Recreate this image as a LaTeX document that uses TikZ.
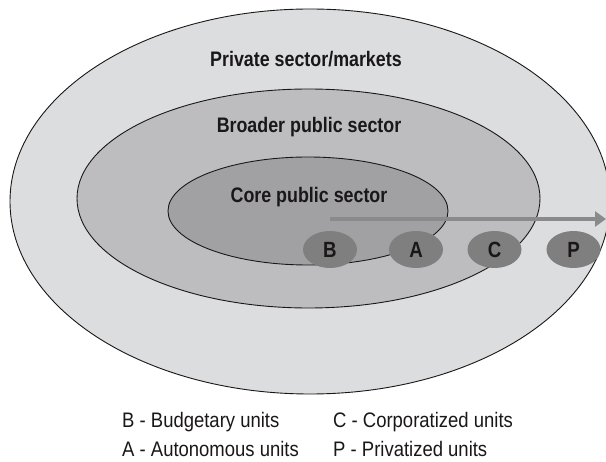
\documentclass[tikz,border=0pt]{standalone}
\usepackage{fontspec}
\usetikzlibrary{shapes.geometric,arrows.meta}
\newfontfamily\lblfont[FakeStretch=0.85]{Liberation Sans Bold}
\newfontfamily\legfont[FakeStretch=0.88]{Liberation Sans}
\definecolor{outerfill}{HTML}{DCDDDE}
\definecolor{midfill}{HTML}{BDBDBF}
\definecolor{innerfill}{HTML}{A1A1A3}
\definecolor{unitfill}{HTML}{7F7F80}
\definecolor{arrowgray}{HTML}{8A8A8B}
\definecolor{ink}{HTML}{1A1718}
\tikzset{
  ring/.style={draw=ink, line width=0.9pt},
  sectorlabel/.style={anchor=base, inner sep=0pt, text=ink, font=\lblfont\fontsize{21}{24}\selectfont},
  unit/.style={ellipse, fill=unitfill, minimum width=54pt, minimum height=37pt, inner sep=0pt, text=ink, font=\lblfont\fontsize{22}{24}\selectfont},
  legend/.style={anchor=base west, inner sep=0pt, text=ink, font=\legfont\fontsize{21}{24}\selectfont},
  flow/.style={draw=arrowgray, line width=4pt, -{Triangle[length=11pt,width=15pt]}}
}
\begin{document}
\begin{tikzpicture}[x=1pt,y=-1pt]
\useasboundingbox (0,0) rectangle (606,462);
\clip (0,0) rectangle (606,462);
% sectors
\draw[ring, fill=outerfill] (310,201.5) ellipse [x radius=300pt, y radius=192.5pt];
\draw[ring, fill=midfill] (308.5,198.5) ellipse [x radius=231.5pt, y radius=109.5pt];
\draw[ring, fill=innerfill] (308,211) ellipse [x radius=140pt, y radius=54pt];
% labels
\node[sectorlabel] (priv) at (306,67) {Private sector/markets};
\node[sectorlabel] (broad) at (309,133) {Broader public sector};
\node[sectorlabel] (core) at (309,203) {Core public sector};
% arrow
\coordinate (astart) at (330,219);
\coordinate (aend) at (606,219);
\draw[flow] (astart) -- (aend);
% units
\node[unit] (B) at (330,249.5) {B};
\node[unit] (A) at (416,249.5) {A};
\node[unit] (C) at (494.5,249.5) {C};
\node[unit] (P) at (573.5,249.5) {P};
% legend
\node[legend] (lb) at (122,428) {B - Budgetary units};
\node[legend] (la) at (122,457) {A - Autonomous units};
\node[legend] (lc) at (333,428) {C - Corporatized units};
\node[legend] (lp) at (333,457) {P - Privatized units};
\end{tikzpicture}
\end{document}
